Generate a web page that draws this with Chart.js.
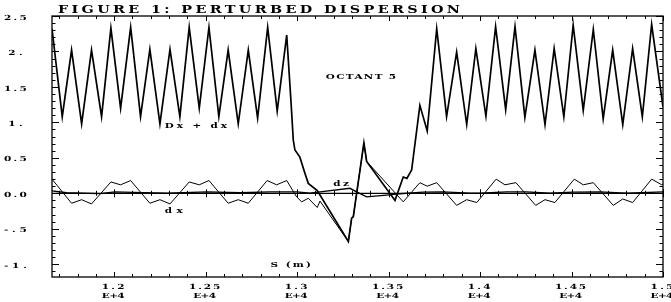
<!DOCTYPE html>
<html>
<head>
<meta charset="utf-8">
<script src="https://cdn.jsdelivr.net/npm/chart.js@4/dist/chart.umd.min.js"></script>
<style>
  html, body { margin: 0; padding: 0; background: #fff; }
  #wrap { width: 671px; height: 302px; }
</style>
</head>
<body>
<div id="wrap"><canvas id="chart" width="671" height="302"></canvas></div>
<script>
// S (m) positions and values
const totalS = [11660, 11716, 11767, 11822, 11876, 11931, 11982, 12035, 12090, 12144,
  12195, 12250, 12305, 12359, 12410, 12465, 12518, 12572, 12623, 12678,
  12733, 12784, 12839, 12891, 12943, 12966, 12979, 12988, 13015, 13043,
  13061, 13110, 13280, 13298, 13307, 13365, 13380, 13535, 13580, 13600,
  13626, 13671, 13711, 13763, 13817, 13872, 13927, 13977, 14032, 14085,
  14140, 14191, 14245, 14300, 14355, 14405, 14458, 14509, 14564, 14619,
  14673, 14725, 14780, 14834, 14887, 14938, 15000];
const totalVal = [2.32, 1.08, 2.02, 0.98, 2.02, 1.08, 2.33, 1.20, 2.34, 1.08,
  2.03, 0.98, 2.03, 1.08, 2.34, 1.20, 2.34, 1.08, 2.02, 0.98,
  2.02, 1.06, 2.34, 1.16, 2.23, 1.31, 0.75, 0.61, 0.51, 0.28,
  0.14, 0.04, -0.68, -0.35, -0.33, 0.71, 0.45, -0.10, 0.23, 0.21,
  0.33, 1.24, 0.88, 2.32, 1.08, 1.99, 0.97, 2.04, 1.09, 2.35,
  1.18, 2.35, 1.07, 2.02, 0.97, 2.04, 1.08, 2.37, 1.17, 2.31,
  1.05, 2.02, 0.97, 2.04, 1.08, 2.38, 1.22];

const dxS = [11660, 11767, 11822, 11876, 11982, 12035, 12090, 12195, 12250, 12305,
  12410, 12465, 12518, 12623, 12678, 12733, 12836, 12888, 12943, 12997,
  13025, 13061, 13110, 13125, 13280, 13298, 13307, 13365, 13380, 13580,
  13671, 13711, 13763, 13872, 13927, 13982, 14088, 14136, 14196, 14304,
  14355, 14409, 14515, 14564, 14619, 14728, 14780, 14834, 14938, 14993, 15000];
const dxVal = [0.20, -0.14, -0.09, -0.15, 0.16, 0.12, 0.18, -0.14, -0.09, -0.15,
  0.16, 0.12, 0.18, -0.14, -0.09, -0.14, 0.18, 0.12, 0.18, -0.05,
  -0.12, -0.07, -0.20, -0.11, -0.68, -0.35, -0.33, 0.71, 0.45, -0.12,
  0.15, 0.10, 0.15, -0.17, -0.09, -0.13, 0.20, 0.12, 0.15, -0.17,
  -0.09, -0.13, 0.20, 0.12, 0.15, -0.17, -0.08, -0.13, 0.20, 0.12, 0.13];

const dzS = [11660, 11740, 11922, 12004, 12102, 12288, 12507, 12688, 12852, 12999,
  13070, 13125, 13289, 13325, 13380, 13489, 13544, 13688, 13797, 13945,
  13999, 14145, 14254, 14382, 14507, 14655, 14801, 15000];
const dzVal = [0.035, 0.007, -0.004, 0.02, 0.013, 0.0, 0.02, 0.007, 0.02, 0.02,
  0.0, 0.02, 0.07, 0.02, -0.05, -0.025, -0.01, 0.017, 0.02, 0.003,
  0.0, 0.02, 0.02, 0.0, 0.017, 0.02, 0.0, 0.02];

const xTickValues = [12000, 12500, 13000, 13500, 14000, 14500, 15000];
const xTickLabels = ['1.2', '1.25', '1.3', '1.35', '1.4', '1.45', '1.5'];
const yTickValues = [-1, -0.5, 0, 0.5, 1, 1.5, 2, 2.5];
const yTickLabels = ['-1.', '-.5', '0.0', '0.5', '1.', '1.5', '2.', '2.5'];

const SERIF = '"DejaVu Serif", "Liberation Serif", serif';
const toPoints = (xs, ys) => xs.map((x, i) => ({ x: x, y: ys[i] }));

// wide plotter lettering: stretched sideways and spread to a given width
function spreadText(ctx, text, left, baseline, width, sx) {
  ctx.save();
  ctx.translate(left, baseline);
  ctx.scale(sx, 1);
  ctx.letterSpacing = '0px';
  const w = ctx.measureText(text).width;
  const gap = text.length > 1 ? (width / sx - w) / (text.length - 1) : 0;
  ctx.letterSpacing = gap + 'px';
  ctx.textAlign = 'left';
  ctx.textBaseline = 'alphabetic';
  ctx.fillText(text, 0, 0);
  ctx.restore();
}
const labelWidth = s => 8.4 * (s.length - 1) + 6;

// frame, inward ticks, zero axis, tick labels and the text notes
const framePlugin = {
  id: 'frame',
  beforeDraw(chart) {
    const ctx = chart.ctx;
    ctx.save();
    ctx.fillStyle = '#fff';
    ctx.fillRect(0, 0, chart.width, chart.height);
    ctx.restore();
  },
  afterDraw(chart) {
    const ctx = chart.ctx;
    const xs = chart.scales.x, ys = chart.scales.y;
    const a = chart.chartArea;
    ctx.save();
    ctx.strokeStyle = '#000';
    ctx.lineWidth = 1.3;
    ctx.strokeRect(a.left, a.top, a.right - a.left, a.bottom - a.top);

    ctx.lineWidth = 1;
    ctx.beginPath();
    const y0 = ys.getPixelForValue(0);
    for (let s = 11700; s <= 15000; s += 100) {
      const px = Math.round(xs.getPixelForValue(s)) + 0.5;
      const major = s % 500 === 0;
      const len = major ? 5 : 3;
      ctx.moveTo(px, a.top); ctx.lineTo(px, a.top + len);
      ctx.moveTo(px, a.bottom); ctx.lineTo(px, a.bottom - len);
      const z = major ? 4 : 2.5;
      ctx.moveTo(px, y0 - z); ctx.lineTo(px, y0 + z);
    }
    for (let k = -11; k <= 25; k++) {
      const py = Math.round(ys.getPixelForValue(k / 10)) + 0.5;
      const major = k % 5 === 0;
      const len = major ? 7 : 3.5;
      ctx.moveTo(a.left, py); ctx.lineTo(a.left + len, py);
      ctx.moveTo(a.right, py); ctx.lineTo(a.right - len, py);
    }
    ctx.stroke();

    ctx.lineWidth = 1.3;
    ctx.beginPath();
    ctx.moveTo(a.left, y0); ctx.lineTo(a.right, y0);
    ctx.stroke();

    ctx.fillStyle = '#000';

    // tick labels at the scale's own tick positions
    ctx.font = 'bold 7px ' + SERIF;
    ys.ticks.forEach(t => {
      const txt = yTickLabels[yTickValues.indexOf(t.value)];
      const w = labelWidth(txt);
      spreadText(ctx, txt, 15.4 - w / 2, ys.getPixelForValue(t.value) + 3.6, w, 1.5);
    });
    xs.ticks.forEach(t => {
      const txt = xTickLabels[xTickValues.indexOf(t.value)];
      const px = xs.getPixelForValue(t.value) - 1;
      const w = labelWidth(txt);
      spreadText(ctx, txt, px - w / 2, 289.3, w, 1.5);
      const w2 = labelWidth('E+4');
      spreadText(ctx, 'E+4', px - w2 / 2, 297.8, w2, 1.5);
    });

    // title
    ctx.font = 'bold 11.5px ' + SERIF;
    spreadText(ctx, 'FIGURE 1: PERTURBED DISPERSION', 58, 13.4, 402, 1.25);

    // notes placed in data coordinates: text, from S, to S, baseline value
    ctx.font = 'bold 8px ' + SERIF;
    const notes = [
      ['OCTANT 5', 13157, 13540, 1.61],
      ['Dx + dx', 12277, 12616, 0.915],
      ['dx', 12277, 12374, -0.28],
      ['dz', 13197, 13283, 0.107],
      ['S (m)', 12855, 13075, -1.04]
    ];
    notes.forEach(n => {
      const l = xs.getPixelForValue(n[1]);
      spreadText(ctx, n[0], l, ys.getPixelForValue(n[3]), xs.getPixelForValue(n[2]) - l, 1.3);
    });
    ctx.restore();
  }
};

new Chart(document.getElementById('chart').getContext('2d'), {
  type: 'line',
  data: {
    datasets: [
      { label: 'dx', data: toPoints(dxS, dxVal), borderColor: '#000', borderWidth: 1, pointRadius: 0, tension: 0 },
      { label: 'dz', data: toPoints(dzS, dzVal), borderColor: '#000', borderWidth: 1.4, pointRadius: 0, tension: 0 },
      { label: 'Dx + dx', data: toPoints(totalS, totalVal), borderColor: '#000', borderWidth: 1.7, pointRadius: 0, tension: 0 }
    ]
  },
  options: {
    responsive: false,
    devicePixelRatio: 1,
    animation: false,
    layout: { padding: { top: 16, right: 8, left: 0, bottom: 0 } },
    plugins: { legend: { display: false }, tooltip: { enabled: false } },
    scales: {
      x: {
        type: 'linear',
        min: 11660,
        max: 15000,
        grid: { display: false, drawTicks: false },
        border: { display: false },
        afterBuildTicks: s => { s.ticks = xTickValues.map(v => ({ value: v })); },
        afterFit: s => { s.height = 25; s.paddingLeft = 0; s.paddingRight = 0; },
        ticks: { display: false, autoSkip: false, maxRotation: 0 }
      },
      y: {
        type: 'linear',
        min: -1.18,
        max: 2.5,
        grid: { display: false, drawTicks: false },
        border: { display: false },
        afterBuildTicks: s => { s.ticks = yTickValues.map(v => ({ value: v })); },
        afterFit: s => { s.width = 52; s.paddingTop = 0; s.paddingBottom = 0; },
        ticks: { display: false, autoSkip: false }
      }
    }
  },
  plugins: [framePlugin]
});
</script>
</body>
</html>
